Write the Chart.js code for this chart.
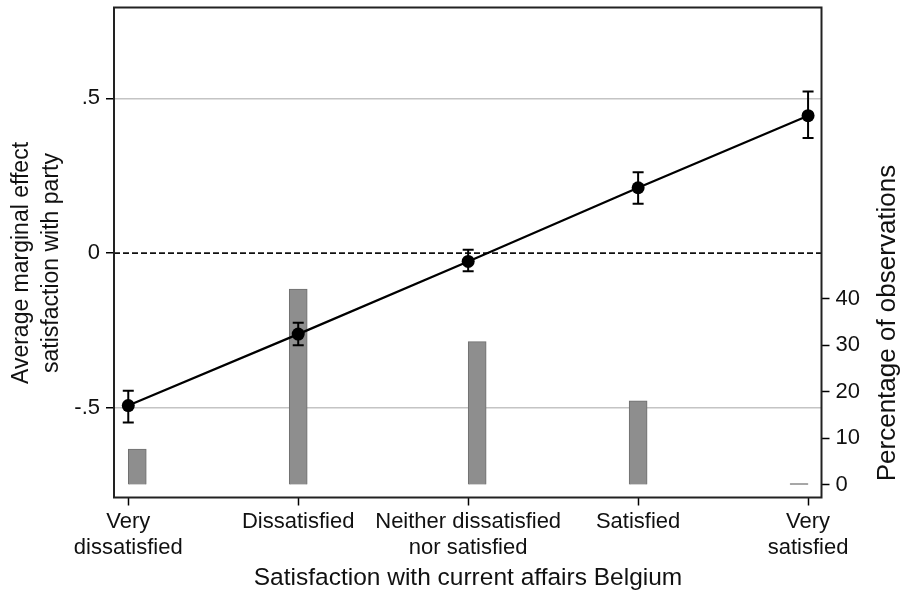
<!DOCTYPE html>
<html>
<head>
<meta charset="utf-8">
<script src="https://cdn.jsdelivr.net/npm/chart.js@4.4.1/dist/chart.umd.min.js"></script>
<style>
  html, body { margin: 0; padding: 0; background: #ffffff; }
  #wrap { width: 901px; height: 591px; }
</style>
</head>
<body>
<div id="wrap"><canvas id="chart" width="901" height="591"></canvas></div>
<script>
// Categories of satisfaction with current affairs
const categories = [["Very", "dissatisfied"], "Dissatisfied", ["Neither dissatisfied", "nor satisfied"], "Satisfied", ["Very", "satisfied"]];
const categoryPos = [1, 2, 3, 4, 5];

// Average marginal effect with 95% confidence bounds
const effect = [-0.493, -0.262, -0.027, 0.211, 0.444];
const ciLow  = [-0.548, -0.298, -0.059, 0.159, 0.372];
const ciHigh = [-0.445, -0.225, 0.011, 0.261, 0.522];

// Share of observations per category (histogram on the right axis)
const histPos = [1.053, 2.0, 3.053, 4.0, 4.947];
const pctObs  = [7.7, 42.1, 30.8, 18.1, 0.3];

// Axis ticks
const effectTicks = [-0.5, 0, 0.5];
const effectTickLabels = ["-.5", "0", ".5"];
const pctTicks = [0, 10, 20, 30, 40];
const referenceValue = 0;

const FONT = "'Liberation Sans', Arial, Helvetica, sans-serif";
const INK = "#111111";

// Confidence intervals as separate two-point segments
const ciSegments = [];
categoryPos.forEach((x, i) => {
  ciSegments.push({ x: x, y: ciLow[i] }, { x: x, y: ciHigh[i] }, { x: x, y: null });
});

function drawRotated(ctx, text, x, y) {
  ctx.save();
  ctx.translate(x, y);
  ctx.rotate(-Math.PI / 2);
  ctx.fillText(text, 0, 0);
  ctx.restore();
}

const framePlugin = {
  id: "frameAndTitles",
  beforeDatasetsDraw(chart) {
    const { ctx, chartArea: a, scales } = chart;
    // dashed reference line at zero
    const y0 = scales.y.getPixelForValue(referenceValue);
    ctx.save();
    ctx.strokeStyle = "#111";
    ctx.lineWidth = 1.7;
    ctx.setLineDash([6, 3]);
    ctx.beginPath();
    ctx.moveTo(a.left, y0);
    ctx.lineTo(a.right, y0);
    ctx.stroke();
    ctx.restore();
  },
  afterDraw(chart) {
    const { ctx, chartArea: a } = chart;
    ctx.save();
    ctx.strokeStyle = "#222";
    ctx.lineWidth = 2;
    ctx.strokeRect(a.left, a.top, a.right - a.left, a.bottom - a.top);

    ctx.fillStyle = INK;
    ctx.textAlign = "center";
    ctx.textBaseline = "middle";
    ctx.font = "24.5px " + FONT;
    ctx.fillText("Satisfaction with current affairs Belgium", 468, 578);
    ctx.font = "23px " + FONT;
    drawRotated(ctx, "Average marginal effect", 22, 263);
    drawRotated(ctx, "satisfaction with party", 52, 263);
    ctx.font = "26px " + FONT;
    drawRotated(ctx, "Percentage of observations", 888, 323);
    ctx.restore();
  }
};

const tickFont = { family: FONT, size: 22, lineHeight: 1.15 };

function noVerticalPad(scale) { scale.paddingTop = 0; scale.paddingBottom = 0; }

new Chart(document.getElementById("chart"), {
  type: "line",
  data: {
    datasets: [
      {
        type: "line",
        label: "Average marginal effect",
        data: categoryPos.map((x, i) => ({ x: x, y: effect[i] })),
        borderColor: "#000",
        borderWidth: 2.2,
        pointRadius: 6.5,
        pointBackgroundColor: "#000",
        pointBorderColor: "#000",
        pointBorderWidth: 0,
        tension: 0,
        yAxisID: "y",
        order: 1
      },
      {
        type: "line",
        label: "95% CI",
        data: ciSegments,
        spanGaps: false,
        borderColor: "#000",
        borderWidth: 2,
        pointStyle: "line",
        pointRadius: 5.5,
        pointBorderColor: "#000",
        pointBorderWidth: 2,
        yAxisID: "y",
        order: 2
      },
      {
        type: "bar",
        label: "Percentage of observations",
        data: histPos.map((x, i) => ({ x: x, y: pctObs[i] })),
        backgroundColor: "#8e8e8e",
        borderColor: "#6f6f6f",
        borderWidth: 1,
        barThickness: 18,
        yAxisID: "y2",
        order: 5
      }
    ]
  },
  options: {
    responsive: false,
    animation: false,
    devicePixelRatio: 1,
    layout: { padding: { top: 7, left: 0, right: 0, bottom: 0 } },
    plugins: { legend: { display: false }, tooltip: { enabled: false } },
    scales: {
      x: {
        type: "linear",
        min: 0.916,
        max: 5.079,
        offset: false,
        position: "bottom",
        border: { display: false },
        grid: { drawOnChartArea: false, drawTicks: true, tickLength: 8, tickColor: "#000", tickWidth: 1.5, offset: false },
        afterBuildTicks(scale) { scale.ticks = categoryPos.map(v => ({ value: v })); },
        afterFit(scale) { scale.height = 93.5; scale.paddingLeft = 0; scale.paddingRight = 0; },
        ticks: {
          font: tickFont,
          color: INK,
          padding: 4,
          maxRotation: 0,
          autoSkip: false,
          callback(value) {
            const i = categoryPos.indexOf(value);
            return i >= 0 ? categories[i] : "";
          }
        }
      },
      y: {
        type: "linear",
        position: "left",
        min: -0.79,
        max: 0.7935,
        border: { display: false },
        grid: {
          color: ctx => (ctx.tick && ctx.tick.value === referenceValue) ? "rgba(0,0,0,0)" : "#c4c4c4",
          lineWidth: 1.5,
          drawTicks: true,
          tickLength: 8,
          tickColor: "#000",
          tickWidth: 1.5
        },
        afterBuildTicks(scale) { scale.ticks = effectTicks.map(v => ({ value: v })); },
        afterFit(scale) { scale.width = 114; noVerticalPad(scale); },
        ticks: {
          font: tickFont,
          color: INK,
          padding: 6,
          callback(value) {
            const i = effectTicks.indexOf(value);
            return i >= 0 ? effectTickLabels[i] : "";
          }
        }
      },
      y2: {
        type: "linear",
        position: "right",
        min: -2.7,
        max: 102.6,
        border: { display: false },
        grid: { drawOnChartArea: false, drawTicks: true, tickLength: 8, tickColor: "#000", tickWidth: 1.5 },
        afterBuildTicks(scale) { scale.ticks = pctTicks.map(v => ({ value: v })); },
        afterFit(scale) { scale.width = 79.5; noVerticalPad(scale); },
        ticks: { font: tickFont, color: INK, padding: 6 }
      }
    }
  },
  plugins: [framePlugin]
});
</script>
</body>
</html>
